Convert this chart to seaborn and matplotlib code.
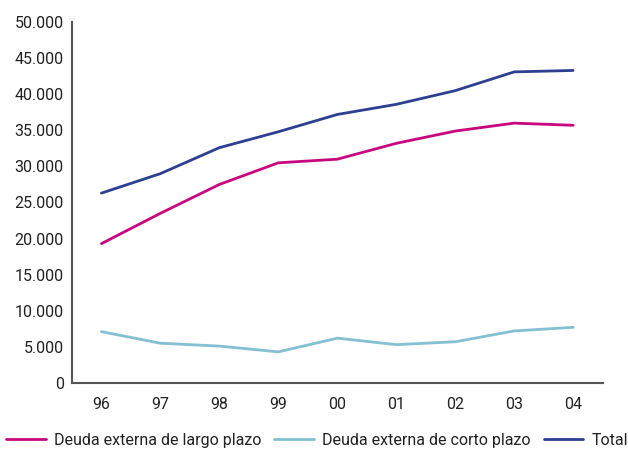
import matplotlib
matplotlib.use("Agg")
import matplotlib.pyplot as plt
import seaborn as sns
import pandas as pd
from matplotlib.ticker import FuncFormatter, FixedLocator

years = ['96', '97', '98', '99', '00', '01', '02', '03', '04']
largo = [19300, 23500, 27500, 30500, 31000, 33200, 34900, 36000, 35700]
corto = [7100, 5500, 5100, 4300, 6200, 5300, 5700, 7200, 7700]
total = [26300, 29000, 32600, 34800, 37200, 38600, 40500, 43100, 43300]

labels = ['Deuda externa de largo plazo', 'Deuda externa de corto plazo', 'Total']
colors = ['#C8077E', '#82C0D2', '#2E3F91']

rows = []
for name, vals in zip(labels, [largo, corto, total]):
    for i, v in enumerate(vals):
        rows.append({'x': i, 'year': years[i], 'valor': v, 'serie': name})
df = pd.DataFrame(rows)

sns.set_style("white")
plt.rcParams['font.family'] = ['Roboto', 'DejaVu Sans']

fig = plt.figure(figsize=(6.28, 4.51), dpi=100)
ax = fig.add_axes([0.1146, 0.151, 0.845, 0.80])

sns.lineplot(data=df, x='x', y='valor', hue='serie', hue_order=labels,
             palette=colors, linewidth=2, ax=ax, legend=False)

ax.set_xlim(-0.5, len(years) - 0.5)
ax.set_ylim(0, 50000)
ax.set_yticks(range(0, 50001, 5000))
ax.yaxis.set_major_formatter(FuncFormatter(lambda v, p: f"{int(v):,}".replace(',', '.')))
ax.xaxis.set_major_locator(FixedLocator([i - 0.5 for i in range(len(years) + 1)]))
ax.xaxis.set_minor_locator(FixedLocator(list(range(len(years)))))
ax.set_xticklabels([])
ax.set_xticklabels(years, minor=True)
ax.tick_params(axis='x', which='major', length=5, width=1, color='#333333', direction='out')
ax.tick_params(axis='x', which='minor', length=0, pad=10, labelsize=11.5, labelcolor='#222222')
ax.tick_params(axis='y', length=4, width=1, color='#333333', direction='out', labelsize=11.5,
               labelcolor='#222222', pad=2)
ax.set_xlabel('')
ax.set_ylabel('')

for s in ['top', 'right']:
    ax.spines[s].set_visible(False)
for s in ['left', 'bottom']:
    ax.spines[s].set_color('#555555')
    ax.spines[s].set_linewidth(1.5)

handles = [plt.Line2D([0], [0], color=c, lw=2) for c in colors]
fig.legend(handles, labels, loc='lower center', bbox_to_anchor=(0.505, -0.025), ncol=3,
           frameon=False, fontsize=11.5, handlelength=2.5, columnspacing=0.8,
           handletextpad=0.5, labelcolor='#222222')

fig.savefig('out.png', dpi=100)
